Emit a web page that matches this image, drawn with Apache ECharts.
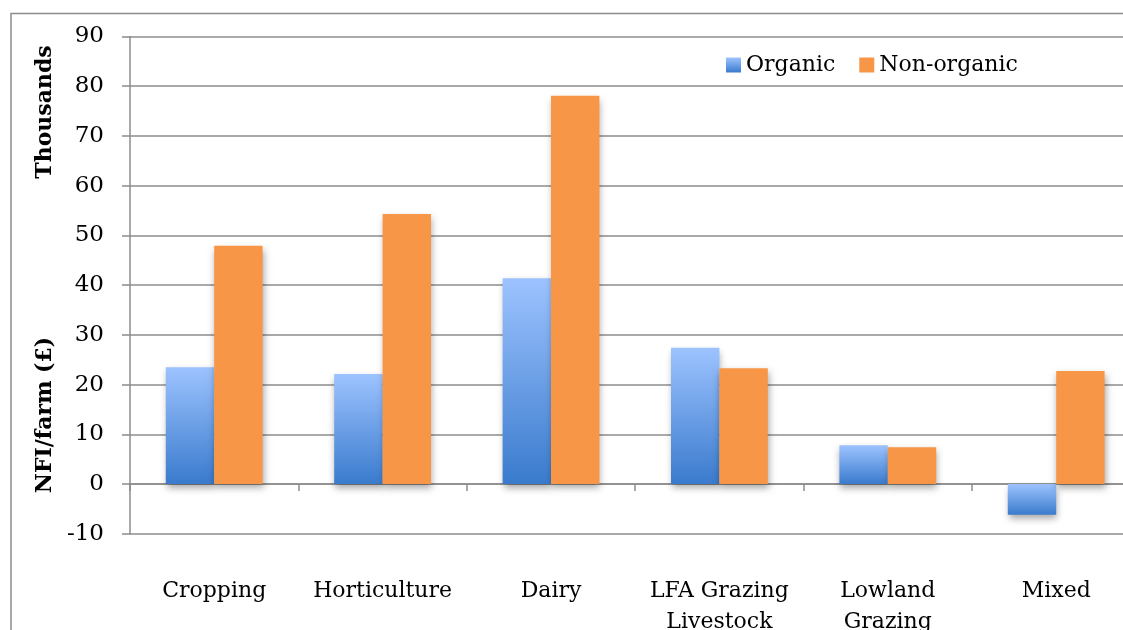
<!DOCTYPE html>
<html><head><meta charset="utf-8">
<script src="https://cdn.jsdelivr.net/npm/echarts@6/dist/echarts.min.js"></script>
<style>html,body{margin:0;padding:0;overflow:hidden;background:#fff;width:1123px;height:630px}#c{position:absolute;left:0;top:0;width:1200px;height:700px}</style>
</head><body><div id="c"></div>
<script>
const categories = ['Cropping', 'Horticulture', 'Dairy', 'LFA Grazing\nLivestock', 'Lowland\nGrazing', 'Mixed'];
const organic = [23.5, 22.1, 41.4, 27.4, 7.8, -6.2];
const nonOrganic = [47.9, 54.3, 78.1, 23.3, 7.4, 22.7];
const seriesNames = ['Organic', 'Non-organic'];

const font = 'DejaVu Serif';
const chart = echarts.init(document.getElementById('c'), null, {renderer: 'canvas'});
const shadow = {shadowBlur: 7, shadowOffsetY: 4, shadowOffsetX: 1, shadowColor: 'rgba(0,0,0,0.35)'};
chart.setOption({
  animation: false,
  textStyle: {fontFamily: font, color: '#000'},
  graphic: [
    {type: 'rect', shape: {x: 11, y: 13.5, width: 1170, height: 680}, style: {fill: 'none', stroke: '#8c8c8c', lineWidth: 1.5}, silent: true},
    {type: 'text', x: 45, y: 112, rotation: Math.PI / 2, style: {text: 'Thousands', font: 'bold 22px "DejaVu Serif"', fill: '#000', align: 'center', verticalAlign: 'middle'}},
    {type: 'text', x: 45, y: 415, rotation: Math.PI / 2, style: {text: 'NFI/farm (£)', font: 'bold 22px "DejaVu Serif"', fill: '#000', align: 'center', verticalAlign: 'middle'}}
  ],
  legend: {
    left: 726, top: 54, padding: 0, itemWidth: 15, itemHeight: 15, itemGap: 24, icon: 'rect',
    textStyle: {fontFamily: font, fontSize: 22, color: '#000'},
    itemStyle: {shadowBlur: 0, shadowOffsetX: 0, shadowOffsetY: 0},
    data: seriesNames
  },
  grid: {left: 130, right: 59.6, top: 36.5, bottom: 166.3},
  xAxis: {
    type: 'category', data: categories,
    axisLine: {onZero: true, lineStyle: {color: '#8c8c8c', width: 1.5}},
    axisTick: {show: true, length: 7, lineStyle: {color: '#8c8c8c', width: 1.5}},
    axisLabel: {margin: 42, fontFamily: font, fontSize: 22, color: '#000', lineHeight: 31, interval: 0}
  },
  yAxis: {
    type: 'value', min: -10, max: 90, interval: 10,
    axisLine: {show: true, lineStyle: {color: '#8c8c8c', width: 1.5}},
    axisTick: {show: true, length: 8, lineStyle: {color: '#8c8c8c', width: 1.5}},
    axisLabel: {margin: 26, fontFamily: font, fontSize: 23, color: '#000'},
    splitLine: {lineStyle: {color: '#8c8c8c', width: 1.5}}
  },
  series: [
    {name: seriesNames[0], type: 'bar', data: organic, barWidth: 48.4, barGap: '0%',
      itemStyle: Object.assign({color: new echarts.graphic.LinearGradient(0, 0, 0, 1, [{offset: 0, color: '#9DC3FF'}, {offset: 1, color: '#3A7BCD'}])}, shadow)},
    {name: seriesNames[1], type: 'bar', data: nonOrganic, barWidth: 48.4, barGap: '0%',
      itemStyle: Object.assign({color: '#F79646'}, shadow)}
  ]
});
</script></body></html>
